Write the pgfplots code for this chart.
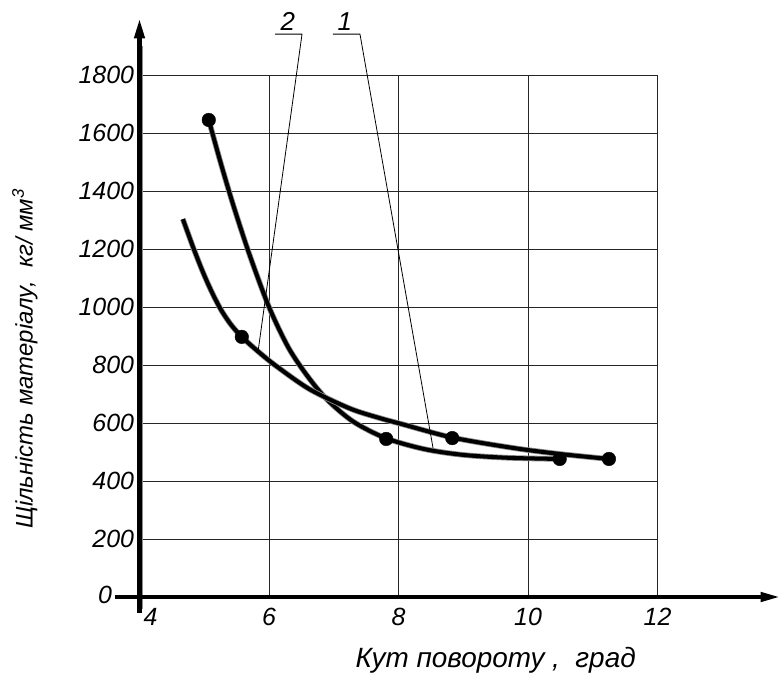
\documentclass[border=0pt]{standalone}
\usepackage{pgfplots}
\pgfplotsset{compat=1.18}
\usepackage{fontspec}
\setmainfont{Liberation Sans}
\usetikzlibrary{arrows.meta}
\begin{document}
\begin{tikzpicture}
\pgfplotstableread{
x y
5.07 1645
5.25 1500
5.45 1350
5.70 1180
6.00 1000
6.30 860
6.60 760
6.90 680
7.30 605
7.80 548
8.40 510
9.00 490
9.70 480
10.49 476
}\curveone
\pgfplotstableread{
x y
4.67 1303
4.83 1205
4.98 1120
5.12 1050
5.26 990
5.41 940
5.58 897
5.84 845
6.12 795
6.63 716
7.25 650
7.71 617
8.04 597
8.83 550
9.77 514
10.50 493
11.25 476
}\curvetwo
\begin{axis}[
  x=64.75bp, y=0.29bp,
  xmin=4, xmax=12, ymin=0, ymax=1800,
  axis line style={draw=none},
  major tick length=0pt,
  grid=major,
  major grid style={black!85, line width=0.8bp},
  xtick={6,8,10,12},
  ytick={200,400,...,1800},
  extra x ticks={4},
  extra y ticks={0},
  extra x tick style={grid=none, xticklabel style={xshift=11bp}},
  extra y tick style={grid=none, yticklabel style={xshift=-22bp, yshift=2bp}},
  /pgf/number format/assume math mode=true,
  /pgf/number format/1000 sep={},
  tick label style={font=\fontsize{25}{25}\selectfont\itshape},
  xticklabel style={anchor=north, yshift=-8bp},
  yticklabel style={anchor=east, xshift=-2bp},
  clip=false,
]
% axes
\draw[black!45, line width=2bp] (axis cs:4.04,-40) -- (axis cs:4.04,1900);
\draw[line width=4.2bp, -{Triangle[length=20bp,width=10bp]}] (axis cs:4,-55) -- (axis cs:4,1995);
\draw[line width=4.2bp, -{Triangle[length=20bp,width=9bp]}] (axis cs:3.62,0) -- (axis cs:13.9,0);
% curve 1
\addplot[black!45, line width=5.6bp, smooth, tension=0.5] table {\curveone};
\addplot[black, line width=4.0bp, smooth, tension=0.5] table {\curveone};
% curve 2
\addplot[black!45, line width=5.6bp, smooth, tension=0.5] table {\curvetwo};
\addplot[black, line width=4.0bp, smooth, tension=0.5] table {\curvetwo};
% markers
\addplot[only marks, mark=*, mark size=6.8bp, black] coordinates {
 (5.07,1645) (7.81,545) (10.49,476)
};
\addplot[only marks, mark=*, mark size=6.8bp, black] coordinates {
 (5.58,897) (8.83,548) (11.25,476)
};
% leader lines
\draw[line width=0.8bp] (axis cs:6.093,1941) -- (axis cs:6.51,1941) -- (axis cs:5.83,845);
\draw[line width=0.8bp] (axis cs:6.988,1941) -- (axis cs:7.405,1941) -- (axis cs:8.533,514);
\node[font=\fontsize{26}{26}\selectfont\itshape, anchor=south] at (axis cs:6.29,1943) {2};
\node[font=\fontsize{26}{26}\selectfont\itshape, anchor=south] at (axis cs:7.17,1943) {1};
% axis labels
\node[font=\fontsize{28}{28}\selectfont\itshape] at (axis cs:9.50,-217) {Кут повороту ,\ \ град};
\node[font=\fontsize{24}{24}\selectfont\itshape, rotate=90] at (axis cs:2.23,821) {Щільність матеріалу,\ \ кг/ мм\textsuperscript{3}};
\coordinate (A) at (axis cs:4,0);
\end{axis}
\pgfresetboundingbox
\path[use as bounding box] (A) ++(-139.5bp,-81bp) rectangle ++(778bp,678bp);
\end{tikzpicture}
\end{document}
